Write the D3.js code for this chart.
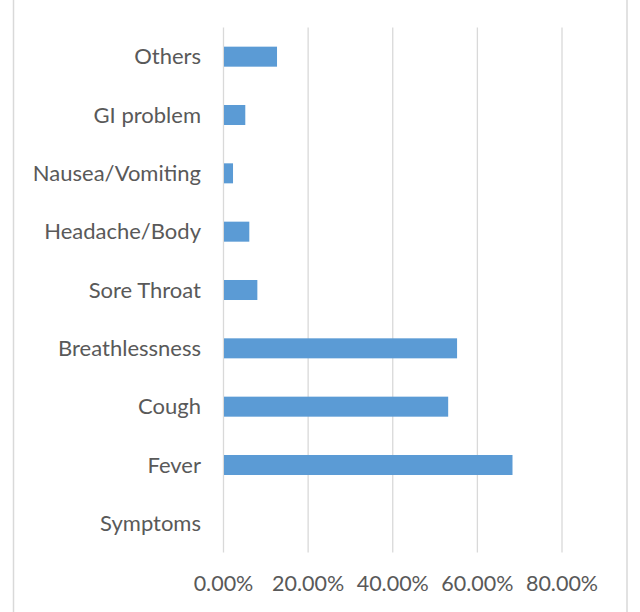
<!DOCTYPE html>
<html>
<head>
<meta charset="utf-8">
<script src="https://cdn.jsdelivr.net/npm/d3@7"></script>
<style>
  html, body { margin: 0; padding: 0; background: #fff; }
  svg { display: block; }
  text { font-family: Lato, "Open Sans", sans-serif; fill: #595959; }
</style>
</head>
<body>
<svg id="chart" width="640" height="612"></svg>
<script>
// Symptom categories, listed top to bottom
const categories = ["Others", "GI problem", "Nausea/Vomiting", "Headache/Body",
  "Sore Throat", "Breathlessness", "Cough", "Fever", "Symptoms"];
// Share of patients reporting each symptom (fraction)
const values = [0.1265, 0.0515, 0.0225, 0.061, 0.080, 0.552, 0.531, 0.683, 0];
// Axis ticks
const tickValues = [0, 0.2, 0.4, 0.6, 0.8];
const tickLabels = ["0.00%", "20.00%", "40.00%", "60.00%", "80.00%"];

const svg = d3.select("#chart");
const W = 640, H = 612;
const plot = { left: 223.5, right: 562, top: 27.5, bottom: 552.5 };

// frame edges
svg.append("line").attr("x1", 13.5).attr("x2", 13.5).attr("y1", 0).attr("y2", H)
  .attr("stroke", "#d9d9d9").attr("stroke-width", 1.5);
svg.append("line").attr("x1", 627).attr("x2", 627).attr("y1", 0).attr("y2", H)
  .attr("stroke", "#d9d9d9").attr("stroke-width", 1.5);

const x = d3.scaleLinear().domain([0, 0.8]).range([plot.left, plot.right]);
const y = d3.scaleBand().domain(categories).range([plot.top, plot.bottom]).paddingInner(0.657).paddingOuter(0.3285);

// vertical gridlines
svg.append("g").selectAll("line").data(tickValues).join("line")
  .attr("x1", d => x(d)).attr("x2", d => x(d))
  .attr("y1", plot.top).attr("y2", plot.bottom)
  .attr("stroke", "#d9d9d9").attr("stroke-width", 1.3);

// bars
svg.append("g").selectAll("rect").data(categories).join("rect")
  .attr("x", x(0) + 0.5)
  .attr("y", d => y(d))
  .attr("width", (d, i) => Math.max(0, x(values[i]) - x(0) - 0.5))
  .attr("height", y.bandwidth())
  .attr("fill", "#5b9bd5");

// category labels
svg.append("g").selectAll("text").data(categories).join("text")
  .attr("x", 201)
  .attr("y", d => y(d) + y.bandwidth() / 2)
  .attr("dy", "0.35em")
  .attr("text-anchor", "end")
  .attr("font-size", 22)
  .text(d => d);

// value axis labels
svg.append("g").selectAll("text").data(tickValues).join("text")
  .attr("x", d => x(d))
  .attr("y", 583)
  .attr("dy", "0.35em")
  .attr("text-anchor", "middle")
  .attr("font-size", 21.5)
  .text((d, i) => tickLabels[i]);
</script>
</body>
</html>
